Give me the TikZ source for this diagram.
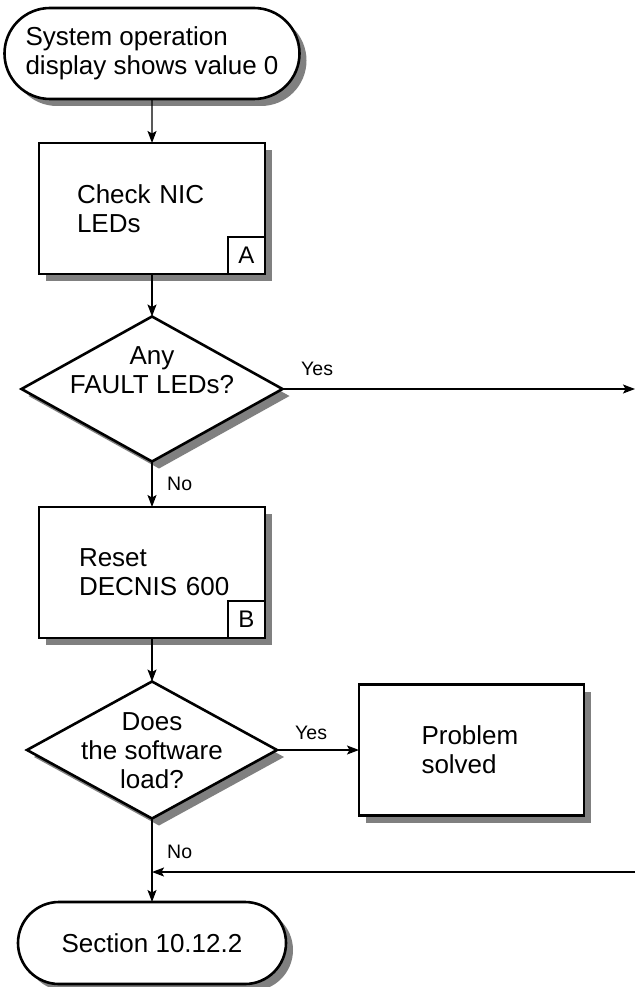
\documentclass[tikz,border=0pt]{standalone}
\usepackage{fontspec}
\setmainfont{Liberation Sans}
\usetikzlibrary{shapes.geometric,shapes.misc,arrows.meta}

\begin{document}
\begin{tikzpicture}[x=1pt, y=-1pt, >={Stealth[length=12pt,width=9pt,inset=2.5pt]},
    font=\fontsize{26}{29}\selectfont,
    shadowed/.style={preaction={fill=black!50, draw=none, transform canvas={xshift=7pt, yshift=-7pt}}},
    terminal/.style={rounded rectangle, draw, line width=2.6pt, fill=white, shadowed, align=left, inner sep=0pt, outer sep=0pt},
    process/.style={rectangle, draw, line width=2.8pt, fill=white, shadowed, align=left, minimum width=226pt, minimum height=131pt, inner sep=0pt, outer sep=0pt},
    decision/.style={diamond, draw, line width=2.6pt, fill=white, shadowed, inner sep=0pt, outer sep=0pt},
    question/.style={align=center, inner sep=0pt},
    tag/.style={rectangle, draw, line width=1.3pt, minimum size=37pt, inner sep=0pt, outer sep=0pt, font=\fontsize{24}{26}\selectfont},
    flow/.style={->, line width=1.3pt},
    answer/.style={font=\fontsize{19.5}{22}\selectfont, inner sep=0pt, anchor=base west}]

    % Rahmen
    \fill[white] (0,0) rectangle (635,987);
    \useasboundingbox (0,0) rectangle (635,987);

    % Start und Ende
    \node[terminal, minimum width=295pt, minimum height=91pt] (start) at (152,53.5) {System operation\\display shows value 0};
    \node[terminal, minimum width=268pt, minimum height=82pt] (finish) at (152,943) {Section 10.12.2};

    % Arbeitsschritte
    \node[process, text width=150pt] (chkA) at (152,208.5) {Check NIC\\LEDs};
    \node[tag, anchor=south east] (tagA) at (chkA.south east) {A};
    \node[process, text width=146pt] (chkB) at (152,572.5) {Reset\\DECNIS~600};
    \node[tag, anchor=south east] (tagB) at (chkB.south east) {B};
    \node[process, minimum width=225pt, text width=100pt] (solved) at (471.5,750) {Problem\\solved};

    % Abfragen
    \node[decision, minimum width=261pt, minimum height=145pt] (q1) at (152,389) {};
    \node[question] (q1t) at (152,370.5) {Any\\FAULT LEDs?};
    \node[decision, minimum width=250pt, minimum height=137pt] (q2) at (152,750) {};
    \node[question] (q2t) at (152,751) {Does\\the software\\load?};

    % Ausgänge rechts
    \coordinate (exitA) at (635,389);
    \coordinate (reentry) at (635,872);

    % Verbindungen
    \draw[flow] (start) -- (chkA);
    \draw[flow] (chkA) -- (q1);
    \draw[flow] (q1.east) -- (exitA);
    \draw[flow] (q1) -- (chkB);
    \draw[flow] (chkB) -- (q2);
    \draw[flow] (q2.east) -- (solved.west);
    \draw[flow] (q2) -- (finish);
    \draw[flow] (reentry) -- (reentry -| q2.south);

    % Beschriftungen
    \node[answer] (yes1) at (301,375) {Yes};
    \node[answer] (no1) at (167,490) {No};
    \node[answer] (yes2) at (295,739) {Yes};
    \node[answer] (no2) at (167,858) {No};
\end{tikzpicture}
\end{document}
